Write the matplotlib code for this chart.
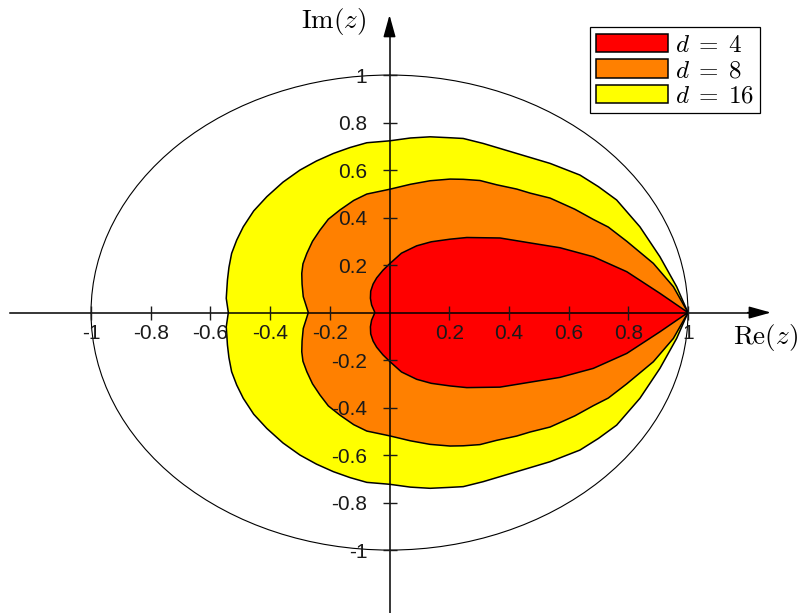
import numpy as np
import matplotlib.pyplot as plt
from matplotlib.patches import Circle

plt.rcParams['mathtext.fontset'] = 'cm'
plt.rcParams['font.family'] = ['Liberation Sans', 'DejaVu Sans']

# upper half of each region boundary,
# going from z = 1 round to the negative real axis (lower half is the mirror)
x_d4 = [1.000, 0.906, 0.795, 0.683, 0.571, 0.482, 0.370, 0.259, 0.203, 0.140,
        0.091, 0.040, 0.000, -0.022, -0.043, -0.055, -0.063, -0.064, -0.060, -0.049]
y_d4 = [0.000, 0.081, 0.172, 0.235, 0.273, 0.291, 0.314, 0.316, 0.309, 0.298,
        0.281, 0.250, 0.205, 0.178, 0.146, 0.120, 0.090, 0.060, 0.032, 0.000]

x_d8 = [1.000, 0.951, 0.884, 0.795, 0.733, 0.683, 0.621, 0.538, 0.471, 0.426,
        0.359, 0.303, 0.247, 0.203, 0.136, 0.070, 0.000, -0.076, -0.120, -0.166,
        -0.205, -0.233, -0.258, -0.277, -0.290, -0.294, -0.293, -0.289, -0.272]
y_d8 = [0.000, 0.109, 0.207, 0.300, 0.360, 0.392, 0.435, 0.482, 0.503, 0.520,
        0.538, 0.556, 0.561, 0.562, 0.555, 0.540, 0.519, 0.499, 0.472, 0.432,
        0.393, 0.347, 0.300, 0.249, 0.205, 0.165, 0.120, 0.067, 0.000]

x_d16 = [1.000, 0.962, 0.906, 0.839, 0.761, 0.700, 0.638, 0.538, 0.426, 0.314,
         0.247, 0.203, 0.136, 0.070, 0.000, -0.076, -0.132, -0.188, -0.245, -0.300,
         -0.357, -0.411, -0.455, -0.490, -0.512, -0.529, -0.538, -0.543, -0.547,
         -0.540]
y_d16 = [0.000, 0.109, 0.235, 0.361, 0.474, 0.530, 0.579, 0.628, 0.670, 0.712,
         0.733, 0.736, 0.740, 0.735, 0.723, 0.715, 0.695, 0.670, 0.638, 0.600,
         0.549, 0.488, 0.428, 0.361, 0.305, 0.249, 0.190, 0.137, 0.060, 0.000]

labels = [r'$d\;=\;4$', r'$d\;=\;8$', r'$d\;=\;16$']
colors = ['#ff0000', '#ff8000', '#ffff00']

ticks = [-1, -0.8, -0.6, -0.4, -0.2, 0.2, 0.4, 0.6, 0.8, 1]
tick_labels = ['-1', '-0.8', '-0.6', '-0.4', '-0.2', '0.2', '0.4', '0.6', '0.8', '1']


def mirrored(xs, ys):
    xs = np.asarray(xs)
    ys = np.asarray(ys)
    return (np.concatenate([xs, xs[::-1][1:]]),
            np.concatenate([ys, -ys[::-1][1:]]))


fig = plt.figure(figsize=(8.02, 6.13), dpi=100)
ax = fig.add_axes([0, 0, 1, 1])

# biggest region first so the smaller ones sit on top
handles = {}
for xs, ys, lab, col in [(x_d16, y_d16, labels[2], colors[2]),
                         (x_d8, y_d8, labels[1], colors[1]),
                         (x_d4, y_d4, labels[0], colors[0])]:
    px, py = mirrored(xs, ys)
    handles[lab] = ax.fill(px, py, facecolor=col, edgecolor='k', lw=1.1,
                           joinstyle='round')[0]

# unit circle
ax.add_patch(Circle((0, 0), 1, fill=False, ec='k', lw=0.8))

ax.set_xlim(-1.305, 1.382)
ax.set_ylim(-1.265, 1.316)

# axes through the origin
for s in ['top', 'right']:
    ax.spines[s].set_visible(False)
ax.spines['left'].set_position(('data', 0))
ax.spines['bottom'].set_position(('data', 0))
ax.spines['bottom'].set_bounds(-1.271, 1.25)
ax.spines['left'].set_bounds(-1.265, 1.22)
ax.spines['left'].set_linewidth(1.1)
ax.spines['bottom'].set_linewidth(1.1)
ax.xaxis.set_ticks_position('bottom')
ax.yaxis.set_ticks_position('left')
ax.set_axisbelow(False)
ax.set_xticks(ticks, tick_labels)
ax.set_yticks(ticks, tick_labels)
ax.tick_params(direction='inout', length=10, width=1, labelsize=15,
               colors='#1a1a1a')
ax.tick_params(axis='x', pad=3.5)
ax.tick_params(axis='y', pad=11)

arrow = dict(arrowstyle='-|>,head_length=0.9,head_width=0.25', mutation_scale=15,
             color='k', lw=1.1, shrinkA=0, shrinkB=0)
ax.annotate('', xy=(1.278, 0), xytext=(1.2, 0), arrowprops=arrow)
ax.annotate('', xy=(0, 1.253), xytext=(0, 1.17), arrowprops=arrow)

ax.text(-0.186, 1.227, r'$\mathrm{Im}(z)$', fontsize=19.5, ha='center', va='center')
ax.text(1.258, -0.103, r'$\mathrm{Re}(z)$', fontsize=19.5, ha='center', va='center')

leg = ax.legend([handles[l] for l in labels], labels, loc='upper right',
                bbox_to_anchor=(760 / 802, 1 - 27 / 613), bbox_transform=fig.transFigure,
                fontsize=18, fancybox=False, framealpha=1, edgecolor='k',
                borderaxespad=0, handlelength=2.9, handleheight=0.76,
                handletextpad=0.28, labelspacing=0.06, borderpad=0.22)
leg.get_frame().set_linewidth(0.9)

fig.savefig('out.png', dpi=100)
